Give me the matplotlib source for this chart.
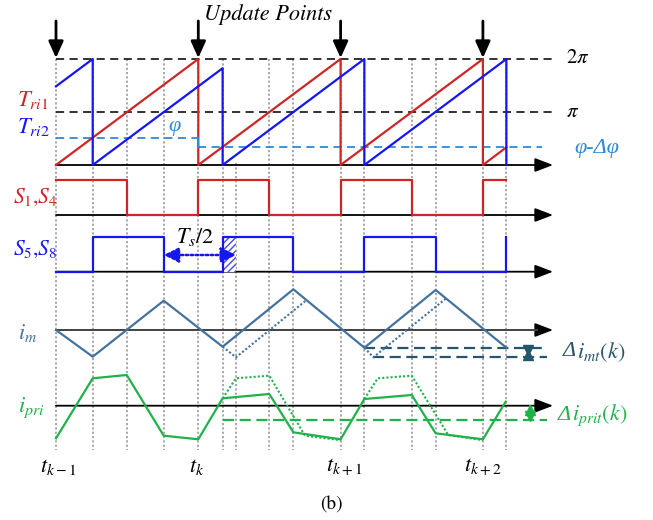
import matplotlib.pyplot as plt
from matplotlib.patches import Rectangle

plt.rcParams['mathtext.fontset'] = 'stix'
plt.rcParams['font.family'] = 'STIXGeneral'

# time axis in switching periods, t_{k-1} = 0
t_grid = [0, 0.258, 0.497, 0.757, 1.0, 1.171, 1.265, 1.499, 1.668, 2.0, 2.167, 2.5, 2.668, 3.0, 3.165]
t_update = [0, 1, 2, 3]
t_names = [r'$t_{k-1}$', r'$t_k$', r'$t_{k+1}$', r'$t_{k+2}$']

# carriers, in units of 2*pi
tri1_t = [0, 1, 1, 2, 2, 3, 3, 3.165]
tri1_v = [0, 1, 0, 1, 0, 1, 0, 0.167]
tri2_t = [0, 0.258, 0.258, 1.171, 1.171, 2.167, 2.167, 3.165, 3.165]
tri2_v = [0.742, 1, 0, 0.913, 0, 1, 0, 1, 0]
phi_old = 0.258
phi_new = 0.167

# gate signals
s14_t = [0, 0.497, 0.497, 1, 1, 1.499, 1.499, 2, 2, 2.5, 2.5, 3, 3, 3.165]
s14_v = [1, 1, 0, 0, 1, 1, 0, 0, 1, 1, 0, 0, 1, 1]
s58_t = [0, 0.258, 0.258, 0.757, 0.757, 1.171, 1.171, 1.668, 1.668, 2.167, 2.167, 2.668, 2.668, 3.165, 3.165]
s58_v = [0, 0, 1, 1, 0, 0, 1, 1, 0, 0, 1, 1, 0, 0, 1]

# magnetizing current (arbitrary units)
im_t = [0, 0.258, 0.757, 1.171, 1.668, 2.167, 2.668, 3.165]
im_v = [0, -26.7, 29.3, -16.7, 40.7, -17.7, 40.0, -17.7]
im_old1_t = [1.171, 1.265, 1.760]
im_old1_v = [-16.7, -27.3, 29.9]
im_old2_t = [2.167, 2.230, 2.741]
im_old2_v = [-17.7, -27.3, 31.6]

# primary current (arbitrary units)
ipri_t = [0, 0.258, 0.497, 0.757, 1.0, 1.171, 1.499, 1.668, 2.0, 2.167, 2.5, 2.668, 3.0, 3.160]
ipri_v = [-32.6, 27.4, 30.7, -30.0, -33.6, 7.4, 11.7, -26.6, -33.6, 6.7, 10.7, -27.6, -33.6, 4.0]
ipri_old1_t = [1.171, 1.265, 1.499, 1.750, 2.0]
ipri_old1_v = [7.4, 27.4, 30.0, -30.0, -34.5]
ipri_old2_t = [2.167, 2.261, 2.5, 2.757, 3.0]
ipri_old2_v = [6.7, 27.4, 30.0, -29.3, -34.5]

# panel layout (y grows downwards)
TRI_Y0, TRI_H = 165, 106
S14_Y0, S14_H = 215, 35
S58_Y0, S58_H = 271.7, 35
IM_Y0 = 330
IPRI_Y0 = 405.7
T_AXIS_END = 3.493
T_DASH_END = 3.507

RED = '#d02525'
BLUE = '#1616f0'
LBLUE = '#2f8ad6'
STEEL = '#44729f'
TEAL = '#25566c'
GREEN = '#20b24a'
GREEK = 'Liberation Serif'

fig = plt.figure(figsize=(6.53, 5.2), dpi=100)
ax = fig.add_axes([0, 0, 1, 1])
ax.set_xlim(-56 / 142.3, 597 / 142.3)
ax.set_ylim(520, 0)
ax.axis('off')

# dotted switching instants
for t in t_grid:
    top = 163 if t == 1.265 else 59
    ax.plot([t, t], [top, 450], color='#9a9a9a', lw=1.2, ls=(0, (1.3, 1.3)), zorder=1)


def axis_arrow(y, line_color=None):
    ax.annotate('', xy=(T_AXIS_END, y), xytext=(0, y),
                arrowprops=dict(arrowstyle='-|>,head_length=1.1,head_width=0.42',
                                color='k', lw=1.3, shrinkA=0, shrinkB=0), zorder=3)
    if line_color is not None:
        ax.plot([0, T_AXIS_END - 0.11], [y, y], color=line_color, lw=1.4, zorder=3)


def delta_label(x, y, rest, color, size=15):
    # italic capital delta followed by a mathtext part
    ax.text(x, y, '\u0394', fontsize=size, style='italic', family=GREEK,
            color=color, ha='left', va='center')
    ax.annotate(rest, xy=(x, y), xytext=(size * 0.62, 0), textcoords='offset points',
                fontsize=size, color=color, ha='left', va='center')


def tri_y(v):
    return TRI_Y0 - TRI_H * v


# carrier panel
for lvl in (1.0, 0.5):
    ax.plot([0, T_DASH_END], [tri_y(lvl)] * 2, color='#222222', lw=1.3, ls=(0, (4.5, 3)), zorder=2)
ax.plot([0, 1], [tri_y(phi_old)] * 2, color=LBLUE, lw=1.3, ls=(0, (4.5, 3)), zorder=2)
ax.plot([1, 1], [tri_y(phi_old), tri_y(phi_new)], color=LBLUE, lw=1.5, zorder=5)
ax.plot([1, 3.413], [tri_y(phi_new)] * 2, color=LBLUE, lw=1.3, ls=(0, (4.5, 3)), zorder=2)
axis_arrow(TRI_Y0)
ax.plot(tri1_t, [tri_y(v) for v in tri1_v], color=RED, lw=1.6, zorder=4)
ax.plot(tri2_t, [tri_y(v) for v in tri2_v], color=BLUE, lw=1.6, zorder=4)

for t in t_update:
    ax.annotate('', xy=(t, 58), xytext=(t, 21),
                arrowprops=dict(arrowstyle='-|>,head_length=1.0,head_width=0.45',
                                color='k', lw=2, shrinkA=0, shrinkB=0), zorder=6)
ax.text(1.040, 15, 'Update Points', fontsize=16, style='italic', ha='left', va='center')
ax.text(3.668, 58, r'$2\pi$', fontsize=15, ha='center', va='center')
ax.text(3.633, 112, r'$\pi$', fontsize=15, ha='center', va='center')
ax.text(3.800, 149, '\u03c6-\u0394\u03c6', fontsize=16, style='italic', family=GREEK,
        color=LBLUE, ha='center', va='center')
ax.text(0.831, 127, '\u03c6', fontsize=16, style='italic', family=GREEK,
        color=LBLUE, ha='center', va='center')
ax.text(-0.274, 100, r'$T_{ri1}$', fontsize=16.5, color=RED, ha='left', va='center')
ax.text(-0.274, 127, r'$T_{ri2}$', fontsize=16.5, color=BLUE, ha='left', va='center')

# gate signals
axis_arrow(S14_Y0)
ax.plot(s14_t, [S14_Y0 - S14_H * v for v in s14_v], color=RED, lw=1.6, zorder=4)
ax.text(-0.302, 197, r'$S_1$,$S_4$', fontsize=15.5, color=RED, ha='left', va='center')

axis_arrow(S58_Y0)
ax.plot(s58_t, [S58_Y0 - S58_H * v for v in s58_v], color=BLUE, lw=1.6, zorder=4)
ax.add_patch(Rectangle((1.171, S58_Y0 - S58_H), 1.265 - 1.171, S58_H,
                       facecolor='white', edgecolor='#4a4af5', lw=0, hatch='/////', zorder=3))
ax.text(-0.302, 249, r'$S_5$,$S_8$', fontsize=15.5, color=BLUE, ha='left', va='center')
ax.annotate('', xy=(0.757, 255), xytext=(1.265, 255),
            arrowprops=dict(arrowstyle='<|-|>,head_length=0.9,head_width=0.45',
                            color=BLUE, lw=1.8, ls=(0, (1, 1)), shrinkA=0, shrinkB=0), zorder=5)
ax.text(0.977, 237, r'$T_s/2$', fontsize=16, ha='center', va='center')

# magnetizing current
axis_arrow(IM_Y0, '#484848')
ax.plot(im_t, [IM_Y0 - v for v in im_v], color=STEEL, lw=1.6, zorder=4)
for tt, vv in ((im_old1_t, im_old1_v), (im_old2_t, im_old2_v)):
    ax.plot(tt, [IM_Y0 - v for v in vv], color=STEEL, lw=1.5, ls=(0, (1, 1)), zorder=4)
for y0, t0 in ((IM_Y0 + 17.7, 2.167), (IM_Y0 + 27.3, 2.230)):
    ax.plot([t0, 3.448], [y0, y0], color=TEAL, lw=1.6, ls=(0, (5, 2.5)), zorder=3)
ax.plot([3.319, 3.319], [IM_Y0 + 17.7, IM_Y0 + 27.3], color=TEAL, lw=1.5, zorder=5)
ax.plot([3.319], [IM_Y0 + 19.9], marker='v', ms=7, color=TEAL, zorder=5)
ax.plot([3.319], [IM_Y0 + 25.1], marker='^', ms=7, color=TEAL, zorder=5)
ax.text(-0.267, 333, r'$i_m$', fontsize=16, color=STEEL, ha='left', va='center')
delta_label(3.563, 352, r'$i_{mt}(k)$', TEAL, 16)

# primary current
axis_arrow(IPRI_Y0)
ax.plot(ipri_t, [IPRI_Y0 - v for v in ipri_v], color=GREEN, lw=1.6, zorder=4)
for tt, vv in ((ipri_old1_t, ipri_old1_v), (ipri_old2_t, ipri_old2_v)):
    ax.plot(tt, [IPRI_Y0 - v for v in vv], color=GREEN, lw=1.5, ls=(0, (1, 1)), zorder=4)
ax.plot([1.171, 3.448], [IPRI_Y0 + 14.3] * 2, color=GREEN, lw=1.6, ls=(0, (5, 2.5)), zorder=3)
ax.plot([3.331, 3.331], [IPRI_Y0, IPRI_Y0 + 14.3], color=GREEN, lw=1.5, zorder=5)
ax.plot([3.331], [IPRI_Y0 + 4], marker='^', ms=7, color=GREEN, zorder=5)
ax.plot([3.331], [IPRI_Y0 + 10.3], marker='v', ms=7, color=GREEN, zorder=5)
ax.text(-0.267, 408, r'$i_{pri}$', fontsize=16.5, color=GREEN, ha='left', va='center')
delta_label(3.526, 415, r'$i_{prit}(k)$', GREEN, 16)

# time labels
for t, name in zip([0.014, 0.991, 2.024, 3.0], t_names):
    ax.text(t, 467, name, fontsize=16, ha='center', va='center')
ax.text(1.933, 505, '(b)', fontsize=14, ha='center', va='center')

fig.savefig('out.png', dpi=100)
